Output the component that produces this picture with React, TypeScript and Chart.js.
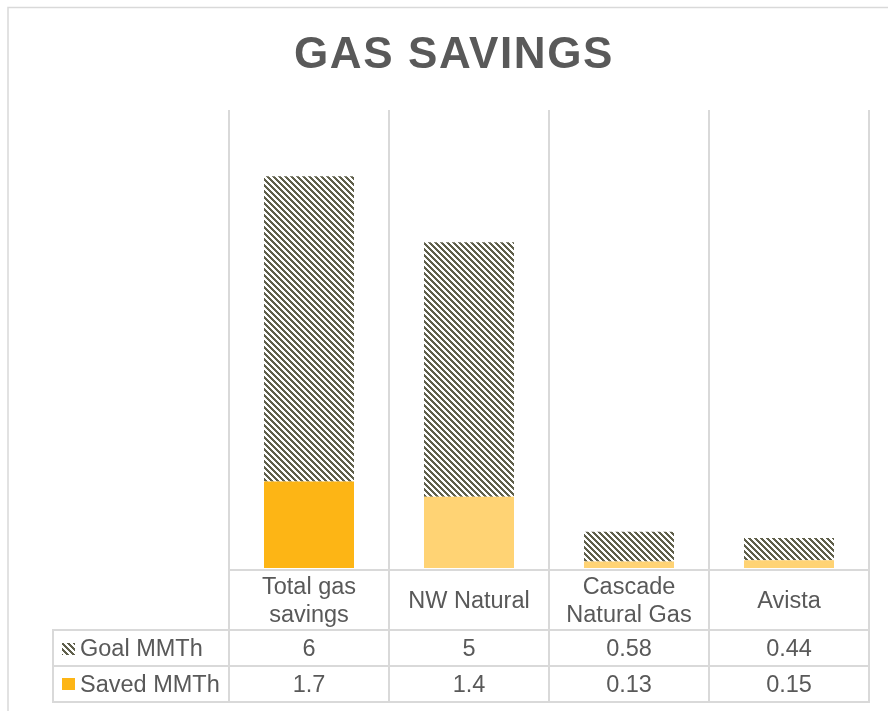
import React, { useEffect, useRef } from 'react';
import { Chart, registerables } from 'chart.js';

Chart.register(...registerables);

const chartTitle = 'GAS SAVINGS';
const categories: string[][] = [['Total gas', 'savings'], ['NW Natural'], ['Cascade', 'Natural Gas'], ['Avista']];
const goalName = 'Goal MMTh';
const savedName = 'Saved MMTh';
const goalValues = [6, 5, 0.58, 0.44];
const savedValues = [1.7, 1.4, 0.13, 0.15];
const savedColors = ['#FDB515', '#FFD374', '#FFD374', '#FFD374'];
const yMax = 9;

const TEXT = '#595959';
const GRID = '#d9d9d9';
const FONT = '"Liberation Sans", Arial, sans-serif';

function makeHatch(): CanvasPattern | string {
  const P = 6;
  const c = document.createElement('canvas');
  c.width = P;
  c.height = P;
  const g = c.getContext('2d');
  if (!g) return '#60604b';
  const img = g.createImageData(P, P);
  for (let y = 0; y < P; y++) {
    for (let x = 0; x < P; x++) {
      const i = (y * P + x) * 4;
      const dark = (((x - y) % P) + P) % P < 3;
      img.data[i] = dark ? 96 : 255;
      img.data[i + 1] = dark ? 96 : 255;
      img.data[i + 2] = dark ? 76 : 255;
      img.data[i + 3] = 255;
    }
  }
  g.putImageData(img, 0, 0);
  const p = g.createPattern(c, 'repeat');
  return p || '#60604b';
}

export default function App() {
  const ref = useRef<HTMLCanvasElement | null>(null);

  useEffect(() => {
    const canvas = ref.current;
    if (!canvas) return;
    const hatch = makeHatch();

    const tablePlugin = {
      id: 'tablePlugin',
      afterDraw(chart: any) {
        const ctx: CanvasRenderingContext2D = chart.ctx;
        const area = chart.chartArea;
        const xs = chart.scales.x;
        const n = categories.length;
        const colW = (area.right - area.left) / n;
        const tableLeft = 53;
        const headTop = 570;
        const row1 = 630;
        const row2 = 666;
        const row3 = 702;

        ctx.save();
        // outer chart border
        ctx.strokeStyle = GRID;
        ctx.lineWidth = 1.5;
        ctx.beginPath();
        ctx.moveTo(8, 711);
        ctx.lineTo(8, 7.5);
        ctx.lineTo(888, 7.5);
        ctx.stroke();

        // title
        ctx.fillStyle = TEXT;
        ctx.font = 'bold 44px ' + FONT;
        try { (ctx as any).letterSpacing = '1.6px'; } catch (e) {}
        ctx.textAlign = 'center';
        ctx.textBaseline = 'alphabetic';
        ctx.fillText(chartTitle, 454, 68);
        try { (ctx as any).letterSpacing = '0px'; } catch (e) {}

        // grid lines
        ctx.strokeStyle = GRID;
        ctx.lineWidth = 2;
        ctx.beginPath();
        for (let i = 0; i <= n; i++) {
          const x = Math.round(area.left + i * colW);
          ctx.moveTo(x, area.top);
          ctx.lineTo(x, row3 + 1);
        }
        ctx.moveTo(area.left, headTop);
        ctx.lineTo(area.right + 1, headTop);
        for (const y of [row1, row2, row3]) {
          ctx.moveTo(tableLeft - 1, y);
          ctx.lineTo(area.right + 1, y);
        }
        ctx.moveTo(tableLeft, row1);
        ctx.lineTo(tableLeft, row3 + 1);
        ctx.stroke();

        // category labels
        ctx.fillStyle = TEXT;
        ctx.font = '23.5px ' + FONT;
        ctx.textAlign = 'center';
        ctx.textBaseline = 'alphabetic';
        categories.forEach((lines, i) => {
          const cx = xs.getPixelForValue(i);
          if (lines.length === 1) {
            ctx.fillText(lines[0], cx, 608);
          } else {
            ctx.fillText(lines[0], cx, 594);
            ctx.fillText(lines[1], cx, 622);
          }
        });

        // values
        goalValues.forEach((v, i) => {
          ctx.fillText(String(v), xs.getPixelForValue(i), 656);
        });
        savedValues.forEach((v, i) => {
          ctx.fillText(String(v), xs.getPixelForValue(i), 692);
        });

        // legend keys and names
        ctx.fillStyle = hatch as any;
        ctx.fillRect(62, 643, 13, 12);
        ctx.fillStyle = savedColors[0];
        ctx.fillRect(62, 678, 13, 12);
        ctx.fillStyle = TEXT;
        ctx.textAlign = 'left';
        ctx.fillText(goalName, 80, 656);
        ctx.fillText(savedName, 80, 692);
        ctx.restore();
      },
    };

    const chart = new Chart(canvas, {
      type: 'bar',
      data: {
        labels: categories.map((c) => c.join(' ')),
        datasets: [
          {
            label: savedName,
            data: savedValues,
            backgroundColor: savedColors,
            borderWidth: 0,
            stack: 's',
          },
          {
            label: goalName,
            data: goalValues,
            backgroundColor: hatch as any,
            borderWidth: 0,
            stack: 's',
          },
        ],
      },
      options: {
        responsive: false,
        animation: false,
        devicePixelRatio: 1,
        layout: { padding: { left: 229, right: 19, top: 110, bottom: 143 } },
        datasets: { bar: { categoryPercentage: 1, barPercentage: 0.5625 } },
        scales: {
          x: { stacked: true, display: false, offset: true, grid: { display: false } },
          y: { stacked: true, display: false, min: 0, max: yMax },
        },
        plugins: {
          legend: { display: false },
          title: { display: false },
          tooltip: { enabled: false },
        },
      },
      plugins: [tablePlugin],
    });

    return () => chart.destroy();
  }, []);

  return (
    <div style={{ position: 'fixed', left: 0, top: 0, width: 888, height: 711, background: '#fff' }}>
      <canvas ref={ref} width={888} height={711} style={{ display: 'block', width: 888, height: 711 }} />
    </div>
  );
}
